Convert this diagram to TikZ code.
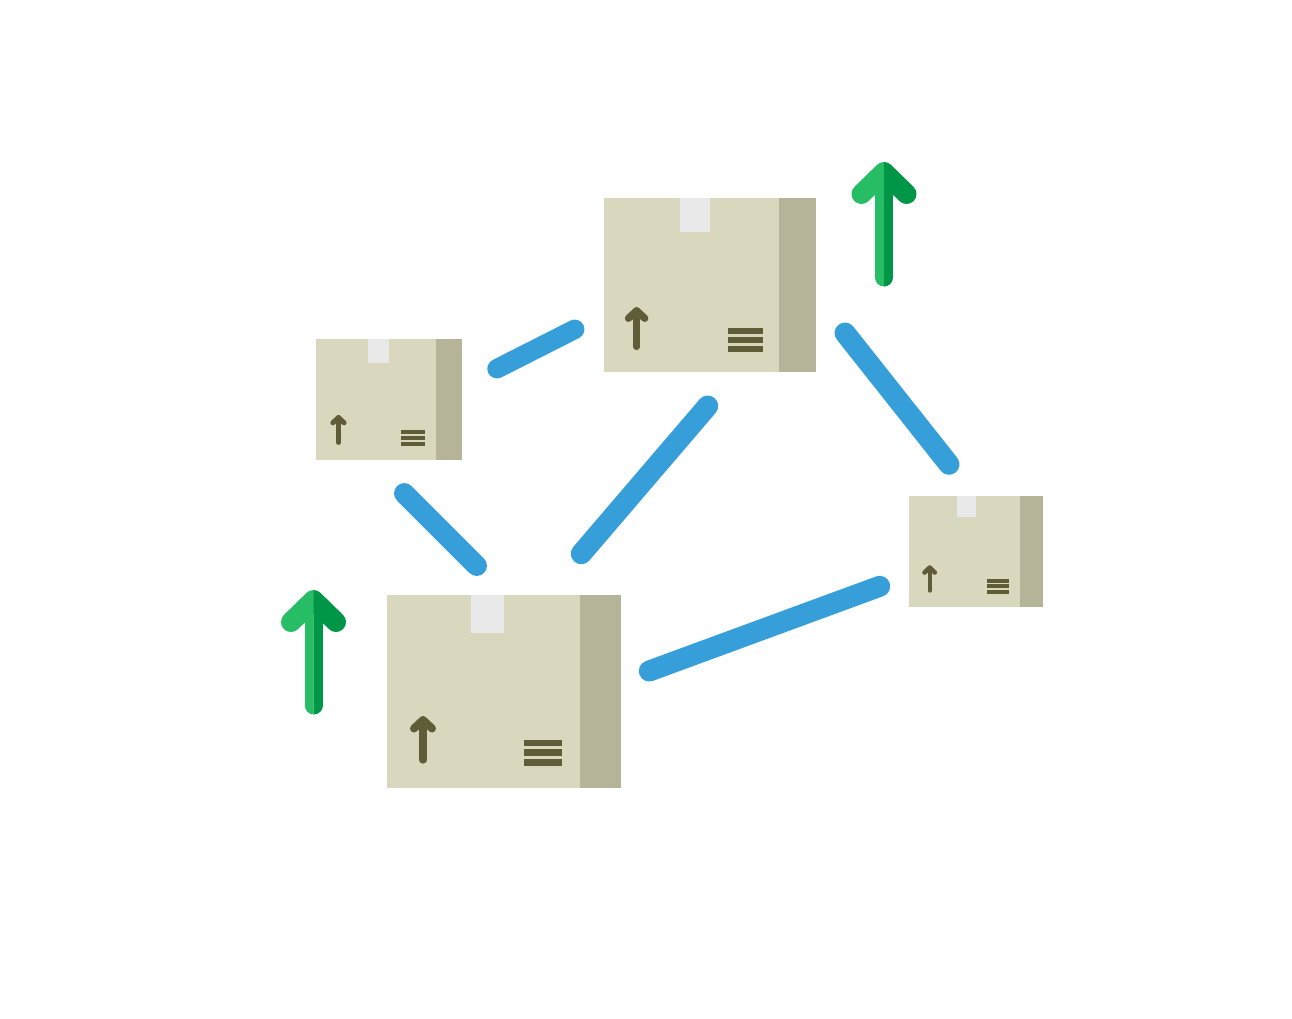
\documentclass[tikz,border=0pt]{standalone}
\definecolor{boxfront}{HTML}{D9D7BD}
\definecolor{boxside}{HTML}{B5B398}
\definecolor{boxtape}{HTML}{E9E9E9}
\definecolor{boxmark}{HTML}{5F5C38}
\definecolor{linkblue}{HTML}{369FD9}
\definecolor{uplight}{HTML}{27BD64}
\definecolor{updark}{HTML}{009648}
\tikzset{
  link/.style={line width=#1,linkblue,line cap=round},
  pics/crate/.style={code={
    \begin{scope}[scale=#1]
    \fill[boxfront] (0,0) rectangle (193,193);
    \fill[boxside] (193,0) rectangle (234,193);
    \fill[boxtape] (84,0) rectangle (117,37.5);
    \draw[boxmark,line width=#1*7.3pt,line cap=round] (36,125) -- (36,165);
    \draw[boxmark,line width=#1*8pt,line cap=round,line join=round] (27,133.5) -- (36,125) -- (45,133.5);
    \fill[boxmark] (136.5,144.5) rectangle (175,151);
    \fill[boxmark] (136.5,154) rectangle (175,160.5);
    \fill[boxmark] (136.5,164) rectangle (175,170.5);
    \end{scope}
  }},
  pics/uparrow/.style={code={
    \begin{scope}
    \clip (-40,-5) rectangle (0,130);
    \draw[uplight,line width=20pt,line cap=round,line join=round] (-22.5,32) -- (0,10) -- (22.5,32);
    \draw[uplight,line width=18pt,line cap=round] (0,10) -- (0,115.5);
    \end{scope}
    \begin{scope}
    \clip (0,-5) rectangle (40,130);
    \draw[updark,line width=20pt,line cap=round,line join=round] (-22.5,32) -- (0,10) -- (22.5,32);
    \draw[updark,line width=18pt,line cap=round] (0,10) -- (0,115.5);
    \end{scope}
  }}
}
\begin{document}
\begin{tikzpicture}[x=1pt,y=-1pt]
\useasboundingbox (0,0) rectangle (1292,1018);
% boxes
\pic[yscale=0.995] at (604,198) {crate=0.906};
\pic[yscale=1.006] at (316,339) {crate=0.624};
\pic at (909,496) {crate=0.573};
\pic at (387,595) {crate=1};
% green arrows
\pic at (884,162) {uparrow};
\pic at (313.5,590) {uparrow};
% links
\coordinate (lefttop) at (497,368.7);
\coordinate (topleft) at (574.7,329.3);
\coordinate (topmid) at (707.7,406);
\coordinate (midtop) at (581.3,553.7);
\coordinate (topright) at (845,333);
\coordinate (righttop) at (949,464.3);
\coordinate (leftlow) at (404.3,493.3);
\coordinate (lowleft) at (476.7,565.7);
\coordinate (lowright) at (649.3,671);
\coordinate (rightlow) at (879.7,586.3);
\draw[link=19.5pt] (lefttop) -- (topleft);
\draw[link=21pt] (topmid) -- (midtop);
\draw[link=21pt] (topright) -- (righttop);
\draw[link=20.5pt] (leftlow) -- (lowleft);
\draw[link=21pt] (lowright) -- (rightlow);
\end{tikzpicture}
\end{document}
